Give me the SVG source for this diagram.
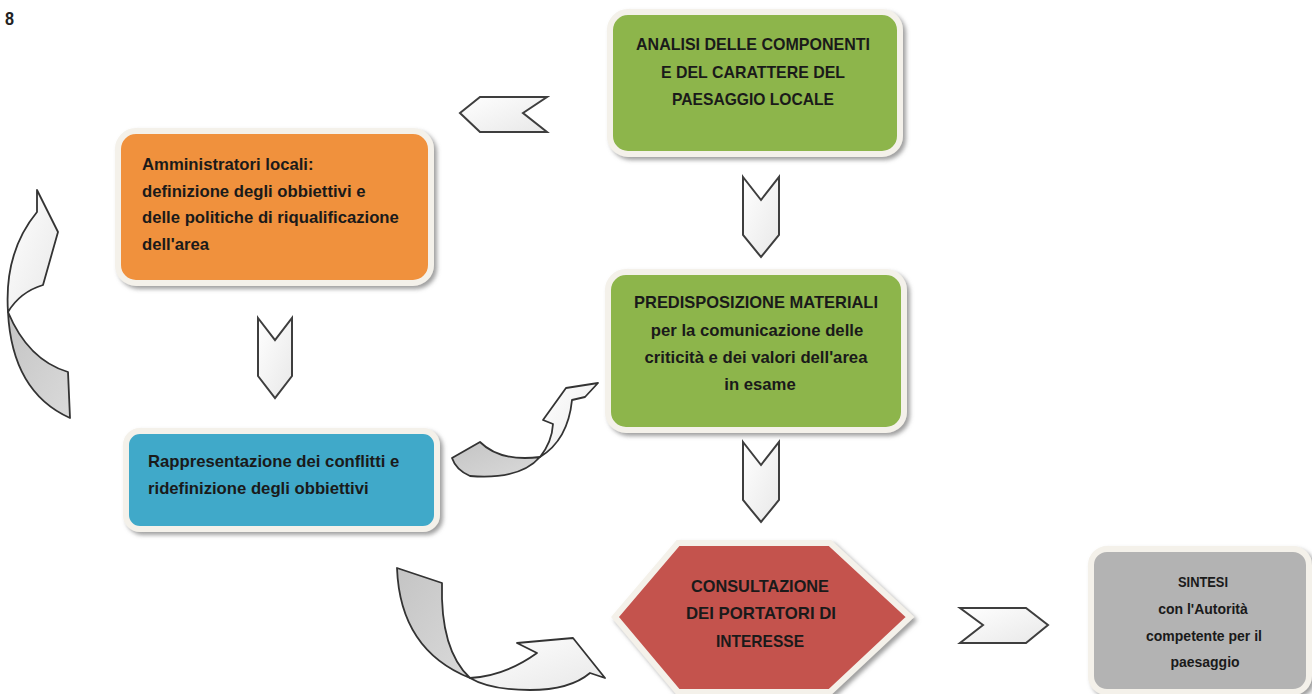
<svg xmlns="http://www.w3.org/2000/svg" width="1312" height="694" viewBox="0 0 1312 694">
<style>
  .t{font-family:"Liberation Sans",Arial,sans-serif;font-weight:bold;font-size:16.7px;fill:#1a1a1a}
  .u{font-size:17px}
  .s{font-size:14px}
  .c{text-anchor:middle}
  .box{stroke:#f4f1ea;stroke-width:6;filter:url(#sh)}
  .chev{fill:url(#wg);stroke:#3e3e3e;stroke-width:2;stroke-linejoin:miter}
  .cw{fill:url(#wg);stroke:#333;stroke-width:1.8;stroke-linejoin:round}
  .cg{fill:url(#gg);stroke:#333;stroke-width:1.8;stroke-linejoin:round}
</style>
<defs>
  <filter id="sh" x="-10%" y="-10%" width="125%" height="130%">
    <feDropShadow dx="3" dy="3" stdDeviation="2" flood-color="#777" flood-opacity="0.7"/>
  </filter>
  <linearGradient id="wg" x1="0" y1="0" x2="1" y2="1">
    <stop offset="0" stop-color="#ffffff"/>
    <stop offset="1" stop-color="#e8e8e8"/>
  </linearGradient>
  <linearGradient id="gg" x1="0" y1="0" x2="1" y2="1">
    <stop offset="0" stop-color="#c4c4c4"/>
    <stop offset="1" stop-color="#dadada"/>
  </linearGradient>
</defs>
<rect width="1312" height="694" fill="#ffffff"/>
<text x="5" y="25" font-family="Liberation Sans,sans-serif" font-weight="bold" font-size="18" fill="#222" textLength="9" lengthAdjust="spacingAndGlyphs">8</text>

<g id="connectors">
  <polygon class="chev" points="460,113 480,97 547,97 523,113 547,132 480,132"/>
  <polygon class="chev" points="743,177 761,200 779,177 779,235 761,257 743,235"/>
  <polygon class="chev" points="743,442 761,465 779,442 779,500 761,522 743,500"/>
  <polygon class="chev" points="258,318 275,340 292,318 292,376 275,398 258,376"/>
  <polygon class="chev" points="960,608 1026,608 1048,625 1026,643 960,643 983,625"/>
  <path class="cw" d="M37,190 L58,232 L43,285 Q20,292 8,312 Q4,252 37,212 Z"/>
  <path class="cg" d="M8,312 Q12,392 70,418 L68,372 Q28,360 8,312 Z"/>
  <path class="cg" d="M452,458 L480,442 Q500,462 540,457 Q520,480 470,476 Q456,470 452,458 Z"/>
  <path class="cw" d="M540,457 Q552,442 553,424 L543,420 L566,388 L598,383 L585,397 L572,400 Q568,440 540,457 Z"/>
  <path class="cg" d="M397,568 L442,583 Q440,650 470,678 Q400,650 397,568 Z"/>
  <path class="cw" d="M470,678 Q505,676 537,653 L517,643 L573,638 L605,678 L590,673 Q570,690 530,690 Q490,690 470,678 Z"/>
</g>

<g id="analisi">
  <rect class="box" x="610" y="12" width="290" height="142" rx="18" fill="#8db54c"/>
  <text class="t u c" x="753" y="50" textLength="234" lengthAdjust="spacingAndGlyphs">ANALISI DELLE COMPONENTI</text>
  <text class="t u c" x="753" y="78" textLength="184" lengthAdjust="spacingAndGlyphs">E DEL CARATTERE DEL</text>
  <text class="t u c" x="753" y="105" textLength="162" lengthAdjust="spacingAndGlyphs">PAESAGGIO LOCALE</text>
</g>

<g id="amministratori">
  <rect class="box" x="118" y="131" width="313" height="152" rx="18" fill="#f0913e"/>
  <text class="t" x="142" y="170">Amministratori locali:</text>
  <text class="t" x="142" y="197">definizione degli obbiettivi e</text>
  <text class="t" x="142" y="223">delle politiche di riqualificazione</text>
  <text class="t" x="142" y="250">dell'area</text>
</g>

<g id="predisposizione">
  <rect class="box" x="608" y="272" width="296" height="158" rx="18" fill="#8db54c"/>
  <text class="t u c" x="756" y="308" textLength="244" lengthAdjust="spacingAndGlyphs">PREDISPOSIZIONE MATERIALI</text>
  <text class="t c" x="757" y="336">per la comunicazione delle</text>
  <text class="t c" x="756" y="363">criticità e dei valori dell'area</text>
  <text class="t c" x="760" y="390">in esame</text>
</g>

<g id="rappresentazione">
  <rect class="box" x="126" y="431" width="311" height="98" rx="14" fill="#40a9c9"/>
  <text class="t" x="148" y="467">Rappresentazione dei conflitti e</text>
  <text class="t" x="148" y="494">ridefinizione degli obbiettivi</text>
</g>

<g id="consultazione">
  <polygon class="box" points="615,617 678,543 830,543 910,617 830,692 678,692" fill="#c4524e"/>
  <text class="t u c" x="760" y="592" textLength="138" lengthAdjust="spacingAndGlyphs">CONSULTAZIONE</text>
  <text class="t u c" x="761" y="619" textLength="150" lengthAdjust="spacingAndGlyphs">DEI PORTATORI DI</text>
  <text class="t u c" x="760" y="647" textLength="88" lengthAdjust="spacingAndGlyphs">INTERESSE</text>
</g>

<g id="sintesi">
  <rect class="box" x="1091" y="549" width="218" height="143" rx="16" fill="#b3b3b3"/>
  <text class="t s c" x="1203" y="587" textLength="50" lengthAdjust="spacingAndGlyphs">SINTESI</text>
  <text class="t s c" x="1203" y="614">con l'Autorità</text>
  <text class="t s c" x="1204" y="641">competente per il</text>
  <text class="t s c" x="1205" y="667">paesaggio</text>
</g>
</svg>
